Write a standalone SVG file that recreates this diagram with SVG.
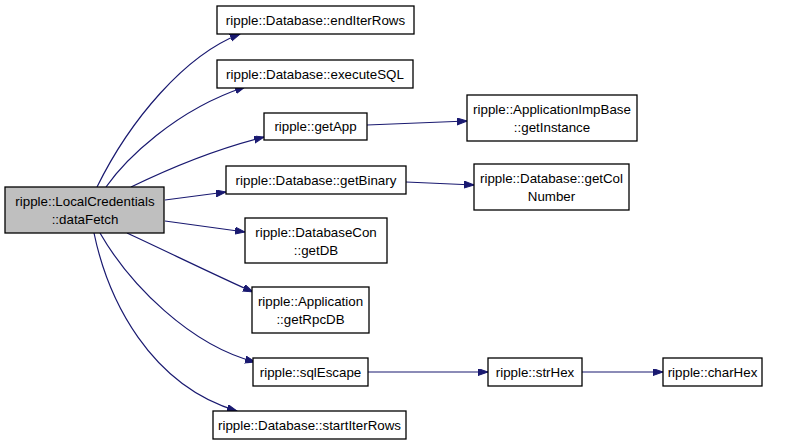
<svg xmlns="http://www.w3.org/2000/svg" width="811" height="445" viewBox="0 0 811 445">
<style>
.n rect{fill:#ffffff;stroke:#000000;stroke-width:1.3}
.m rect{fill:#bfbfbf;stroke:#000000;stroke-width:1.3}
text{font-family:"Liberation Sans",Arial,sans-serif;font-size:13.33px;fill:#000000;text-anchor:middle}
.e path{fill:none;stroke:#191970;stroke-width:1.2;marker-end:url(#ah)}
</style>
<defs>
<marker id="ah" markerUnits="userSpaceOnUse" markerWidth="11" markerHeight="8" refX="10" refY="3.5" orient="auto">
<path d="M0,0 L10,3.5 L0,7 z" fill="#191970" stroke="#191970" stroke-width="1"/>
</marker>
</defs>
<rect width="811" height="445" fill="#ffffff"/>
<g id="edges" class="e">
<path d="M97,187 C130,120 185,55 240,34"/>
<path d="M106,187 C125,160 175,110 245,87"/>
<path d="M131,187 C170,168 220,148 264,137"/>
<path d="M165,200 L226,192"/>
<path d="M165,221 L245,232"/>
<path d="M127,233 C170,253 215,275 253,292"/>
<path d="M100,233 C130,285 190,345 255,362"/>
<path d="M94,233 C108,300 150,385 237,411"/>
<path d="M367,125 L467,121"/>
<path d="M406,182 L474,185"/>
<path d="M368,372 L488,372"/>
<path d="M582,372 L663,372"/>
</g>
<g id="node_main" class="m">
<rect x="5" y="187" width="159" height="46"/>
<text x="85" y="206">ripple::LocalCredentials</text>
<text x="85" y="224">::dataFetch</text>
</g>
<g id="node_endIterRows" class="n">
<rect x="217" y="6" width="197" height="28"/>
<text x="315.5" y="24.5">ripple::Database::endIterRows</text>
</g>
<g id="node_executeSQL" class="n">
<rect x="217" y="60" width="196" height="28"/>
<text x="315" y="78.5">ripple::Database::executeSQL</text>
</g>
<g id="node_getApp" class="n">
<rect x="264" y="113" width="103" height="27"/>
<text x="315.5" y="131">ripple::getApp</text>
</g>
<g id="node_getInstance" class="n">
<rect x="467" y="95" width="170" height="46"/>
<text x="552" y="114">ripple::ApplicationImpBase</text>
<text x="552" y="132">::getInstance</text>
</g>
<g id="node_getBinary" class="n">
<rect x="226" y="166" width="180" height="28"/>
<text x="316" y="184.5">ripple::Database::getBinary</text>
</g>
<g id="node_getColNumber" class="n">
<rect x="474" y="164" width="155" height="46"/>
<text x="551.5" y="183">ripple::Database::getCol</text>
<text x="551.5" y="201">Number</text>
</g>
<g id="node_getDB" class="n">
<rect x="245" y="218" width="142" height="45"/>
<text x="316" y="236.5">ripple::DatabaseCon</text>
<text x="316" y="254.5">::getDB</text>
</g>
<g id="node_getRpcDB" class="n">
<rect x="252" y="287" width="117" height="46"/>
<text x="310.5" y="306">ripple::Application</text>
<text x="310.5" y="324">::getRpcDB</text>
</g>
<g id="node_sqlEscape" class="n">
<rect x="253" y="358" width="115" height="28"/>
<text x="310.5" y="376.5">ripple::sqlEscape</text>
</g>
<g id="node_strHex" class="n">
<rect x="488" y="358" width="94" height="28"/>
<text x="535" y="376.5">ripple::strHex</text>
</g>
<g id="node_charHex" class="n">
<rect x="663" y="358" width="99" height="28"/>
<text x="712.5" y="376.5">ripple::charHex</text>
</g>
<g id="node_startIterRows" class="n">
<rect x="213" y="411" width="193" height="28"/>
<text x="309.5" y="429.5">ripple::Database::startIterRows</text>
</g>
</svg>
